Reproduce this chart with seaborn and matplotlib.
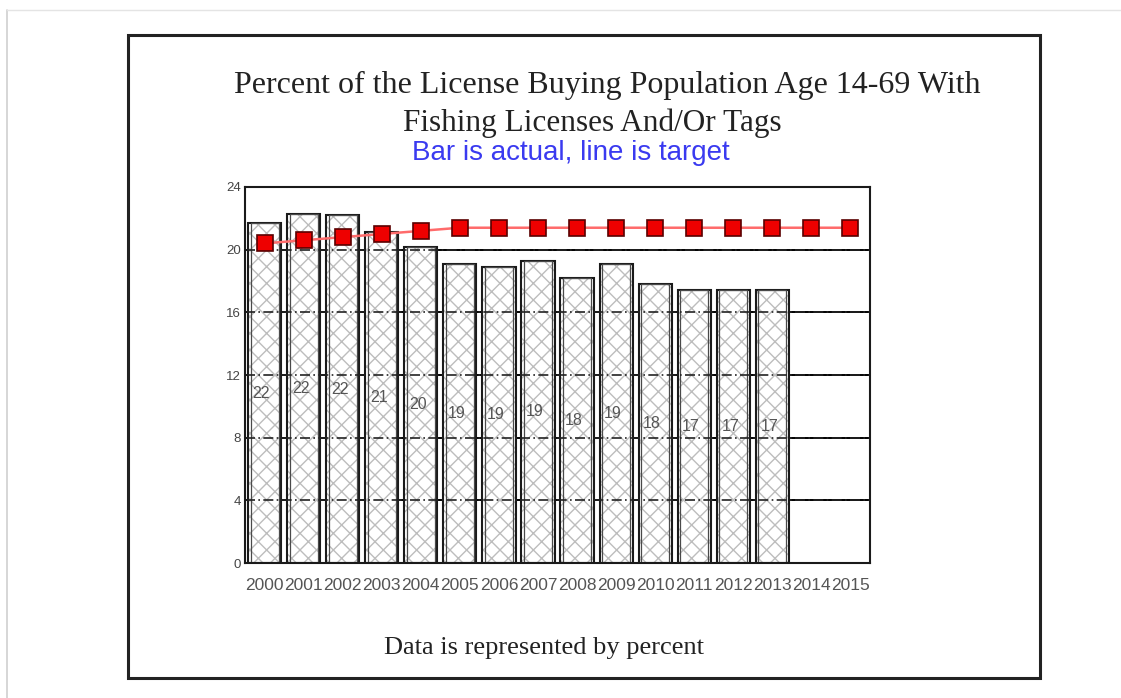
import pandas as pd
import matplotlib.pyplot as plt
import matplotlib.patches as mpatches
import seaborn as sns

# --- data ---
years = [str(y) for y in range(2000, 2016)]
actual = [21.7, 22.3, 22.2, 21.1, 20.2, 19.1, 18.9, 19.3, 18.2, 19.1, 17.8, 17.4, 17.4, 17.4, None, None]
bar_labels = ['22', '22', '22', '21', '20', '19', '19', '19', '18', '19', '18', '17', '17', '17', '', '']
target = [20.4, 20.6, 20.8, 21.0, 21.2, 21.4, 21.4, 21.4, 21.4, 21.4, 21.4, 21.4, 21.4, 21.4, 21.4, 21.4]
y_ticks = [0, 4, 8, 12, 16, 20, 24]

df = pd.DataFrame({'year': years, 'actual': actual, 'target': target})

sns.set_theme(style='white')
plt.rcParams['font.family'] = ['Liberation Sans', 'DejaVu Sans']

fig = plt.figure(figsize=(11.21, 6.98), dpi=100)
ax = fig.add_axes([0.2186, 0.1934, 0.5575, 0.5387])

# outer page frame and scan edges
fig.add_artist(mpatches.Rectangle((0.1142, 0.0287), 0.8136, 0.9212, transform=fig.transFigure,
                                  fill=False, edgecolor='#222222', lw=2.2))
fig.add_artist(plt.Line2D([0.006, 0.006], [0.0, 0.985], transform=fig.transFigure, color='#cfcfcf', lw=1.2))
fig.add_artist(plt.Line2D([0.006, 1.0], [0.985, 0.985], transform=fig.transFigure, color='#e4e4e4', lw=1.0))

# solid gridlines behind the bars
for t in y_ticks[1:-1]:
    ax.axhline(t, color='black', lw=1.4, zorder=0.5)

# hatched bars, then outlines
sns.barplot(data=df, x='year', y='actual', order=years, color='white', width=0.85,
            hatch='xx', edgecolor='#bdbdbd', linewidth=0, ax=ax, zorder=1)
sns.barplot(data=df, x='year', y='actual', order=years, fill=False, width=0.85,
            edgecolor='#1a1a1a', linewidth=1.5, ax=ax, zorder=2)
sns.barplot(data=df, x='year', y='actual', order=years, fill=False, width=0.72,
            edgecolor='#4a4a4a', linewidth=0.9, ax=ax, zorder=2)

# dashed gridlines seen through the bars
for t in y_ticks[1:-1]:
    ax.axhline(t, color='#222222', lw=1.2, ls=(0, (6, 2, 1, 2)), zorder=2.5)

# value labels at half bar height
for i, (v, lab) in enumerate(zip(actual, bar_labels)):
    if v is None:
        continue
    ax.text(i - 0.08, v / 2, lab, ha='center', va='center', fontsize=11.5, color='#555555', zorder=3)

# target line
sns.pointplot(data=df, x='year', y='target', order=years, color='#ff6b6b', marker='',
              linestyle='-', lw=1.8, ax=ax, zorder=4)
sns.pointplot(data=df, x='year', y='target', order=years, color='#ee0000', marker='s',
              linestyle='none', markersize=11, markeredgecolor='#5a0000', markeredgewidth=1.2,
              ax=ax, zorder=5)

ax.set_xlim(-0.5, 15.5)
ax.set_ylim(0, 24)
ax.set_yticks(y_ticks)
ax.set_yticklabels([str(t) for t in y_ticks], fontsize=9.5, color='#444444')
ax.set_xticks(range(len(years)))
ax.set_xticklabels(years, fontsize=12.5, color='#555555')
ax.tick_params(axis='x', length=0, pad=11)
ax.tick_params(axis='y', length=0, pad=3)
ax.set_xlabel('')
ax.set_ylabel('')
for s in ax.spines.values():
    s.set_color('#1a1a1a')
    s.set_linewidth(1.5)

fig.text(0.542, 0.878, 'Percent of the License Buying Population Age 14-69 With',
         ha='center', va='center', fontsize=23, family=['Liberation Serif'], color='#222222')
fig.text(0.528, 0.823, 'Fishing Licenses And/Or Tags',
         ha='center', va='center', fontsize=22.5, family=['Liberation Serif'], color='#222222')
fig.text(0.5095, 0.781, 'Bar is actual, line is target',
         ha='center', va='center', fontsize=20, color='#3a3af0')
fig.text(0.485, 0.071, 'Data is represented by percent',
         ha='center', va='center', fontsize=19, family=['Liberation Serif'], color='#222222')

fig.savefig('out.png', dpi=100)
